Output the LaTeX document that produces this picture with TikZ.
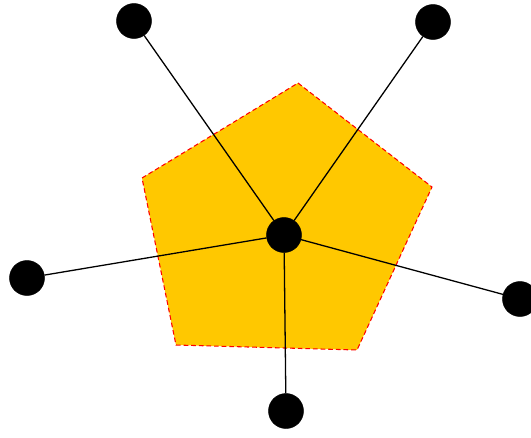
\documentclass[tikz,border=0pt]{standalone}
\usepackage{tikz}
\tikzset{
  vertex/.style={
    shape = circle,
    draw,
    fill,
    inner sep = 0cm,
    minimum size = 1.05cm
  },
  cell/.style={
    draw = red,
    fill = {rgb,255:red,255;green,200;blue,0},
    dash pattern = on 4pt off 2.5pt,
    line width = 0.9pt
  },
  edge/.style={
    line width = 1.1pt
  }
}

\begin{document}
\begin{tikzpicture}[x=0.03cm,y=-0.03cm]
            \clip (0,0) rectangle (531,437);
            \draw[cell] (298,83) -- (432,187) -- (357,350) -- (176,345) -- (142,178) -- cycle;
            \node[vertex] (c) at (284,235) {};
            \foreach \n/\x/\y in {1/134/21,2/433/22,3/27/278,4/520/299,5/286/411}{
                    \node[vertex] (v\n) at (\x,\y) {};
                    \draw[edge] (c) -- (v\n);
                }
        \end{tikzpicture}
\end{document}
